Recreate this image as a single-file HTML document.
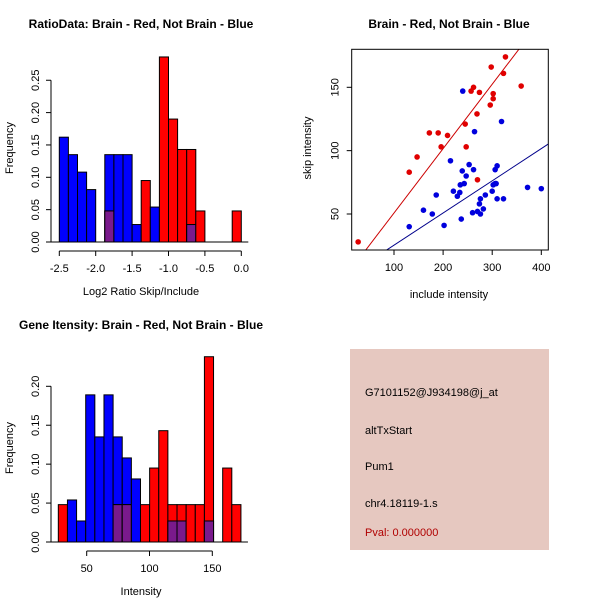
<!DOCTYPE html>
<html><head><meta charset="utf-8"><style>
html,body{margin:0;padding:0;background:#fff}
svg{display:block;font-family:"Liberation Sans",sans-serif}
</style></head><body>
<svg id="c" width="600" height="600" viewBox="0 0 600 600">
<rect x="350" y="349" width="199" height="201" fill="#e6c8c0"/>
<text x="365" y="396" font-size="11">G7101152@J934198@j_at</text>
<text x="365" y="434" font-size="11">altTxStart</text>
<text x="365" y="470" font-size="11">Pum1</text>
<text x="365" y="507" font-size="11">chr4.18119-1.s</text>
<text x="365" y="536" font-size="11" fill="#b00000">Pval: 0.000000</text>
</svg>
<script>
// ---- Ratio histogram data ----
const ratioBinStart = -2.5;
const ratioBinWidth = 0.125;
const ratioBlue = [0.162,0.135,0.108,0.081,0,0.135,0.135,0.135,0.027,0,0.054,0,0,0,0.027,0,0,0,0,0];
const ratioRed  = [0,0,0,0,0,0.048,0,0,0,0.095,0,0.286,0.19,0.143,0.143,0.048,0,0,0,0.048];
const ratioXTicks = [-2.5,-2.0,-1.5,-1.0,-0.5,0.0];
const ratioXLabels = ["-2.5","-2.0","-1.5","-1.0","-0.5","0.0"];
const ratioYTicks = [0,0.05,0.10,0.15,0.20,0.25];
const ratioYLabels = ["0.00","0.05","0.10","0.15","0.20","0.25"];
// ---- Intensity histogram data ----
const intBinStart = 27.4;
const intBinWidth = 7.27;
const intBlue = [0,0.054,0.027,0.189,0.135,0.189,0.135,0.108,0.081,0,0,0,0.027,0.027,0,0,0.027,0,0,0];
const intRed  = [0.048,0,0,0,0,0,0.048,0.048,0,0.048,0.095,0.143,0.048,0.048,0.048,0.048,0.238,0,0.095,0.048];
const intXTicks = [50,100,150];
const intXLabels = ["50","100","150"];
const intYTicks = [0,0.05,0.10,0.15,0.20];
const intYLabels = ["0.00","0.05","0.10","0.15","0.20"];
// ---- Scatter data ----
const redInclude = [27,131,147,172,190,209,196,245,247,257,262,274,269,270,298,302,302,296,323,327,359];
const redSkip    = [28,83,95,114,114,112,103,121,103,147,150,146,129,77,166,145,141,136,161,174,151];
const blueInclude = [131,160,178,186,202,215,221,229,234,235,237,239,243,240,247,253,262,264,260,270,274,276,276,282,286,300,302,306,308,306,310,310,323,319,372,400];
const blueSkip    = [40,53,50,65,41,92,68,64,67,73,46,84,74,147,80,89,85,115,51,52,58,62,50,54,65,68,73,74,74,85,88,62,62,123,71,70];
const redSlope = 0.508, blueSlope = 0.254;
const scXTicks = [100,200,300,400];
const scYTicks = [50,100,150];

const svg = document.getElementById('c');
const NS = 'http://www.w3.org/2000/svg';
function mk(tag, attrs, parent){const e=document.createElementNS(NS,tag);for(const k in attrs)e.setAttribute(k,attrs[k]);(parent||svg).appendChild(e);return e;}
function txt(s,x,y,size,extra){const t=mk('text',Object.assign({x:x,y:y,'font-size':size,'text-anchor':'middle'},extra||{}));t.textContent=s;return t;}

function histogram(o){
  const g=mk('g',{});
  
  
  const sx=v=>o.x0+(v-o.xv0)*o.kx, sy=v=>o.y0-v*o.ky;
  for(let i=0;i<o.blue.length;i++){
    const l=o.binStart+i*o.binW, xa=sx(l), xb=sx(l+o.binW);
    const b=o.blue[i], r=o.red[i], m=Math.min(b,r);
    if(b>0){const e=mk('rect',{x:xa,y:sy(b),width:xb-xa,height:sy(0)-sy(b),fill:'#0000ff',stroke:'#000','stroke-width':1},g);
      }
    if(r>0){const e=mk('rect',{x:xa,y:sy(r),width:xb-xa,height:sy(0)-sy(r),fill:'#ff0000',stroke:'#000','stroke-width':1},g);
      }
    if(m>0){const e=mk('rect',{x:xa,y:sy(m),width:xb-xa,height:sy(0)-sy(m),fill:'#7a1a8c',stroke:'#000','stroke-width':1},g);
      }
  }
  mk('line',{x1:sx(o.binStart)-10,x2:sx(o.binStart+o.blue.length*o.binW)+7,y1:sy(0),y2:sy(0),stroke:'#000'},g);
  const ay=o.y0+9;
  mk('line',{x1:sx(o.xt[0]),x2:sx(o.xt[o.xt.length-1]),y1:ay,y2:ay,stroke:'#000'},g);
  o.xt.forEach((v,i)=>{mk('line',{x1:sx(v),x2:sx(v),y1:ay,y2:ay+5,stroke:'#000'},g);txt(o.xl[i],sx(v),ay+21,11);});
  const ax=51;
  mk('line',{x1:ax,x2:ax,y1:sy(o.yt[0]),y2:sy(o.yt[o.yt.length-1]),stroke:'#000'},g);
  o.yt.forEach((v,i)=>{mk('line',{x1:ax,x2:ax-5,y1:sy(v),y2:sy(v),stroke:'#000'},g);
    txt(o.yl[i],ax-12,sy(v),11,{transform:`rotate(-90 ${ax-12} ${sy(v)})`});});
  txt(o.title,141,o.titleY,12,{'font-weight':'bold'});
  txt(o.xlabel,141,o.y0+53,11);
  txt('Frequency',13,o.midY,11,{transform:`rotate(-90 13 ${o.midY})`});
}
histogram({name:'ratio-histogram',blue:ratioBlue,red:ratioRed,binStart:ratioBinStart,binW:ratioBinWidth,
  x0:59.3,xv0:-2.5,kx:72.8,y0:242,ky:647,xt:ratioXTicks,xl:ratioXLabels,yt:ratioYTicks,yl:ratioYLabels,
  title:'RatioData: Brain - Red, Not Brain - Blue',titleY:28,xlabel:'Log2 Ratio Skip/Include',midY:148});
histogram({name:'intensity-histogram',blue:intBlue,red:intRed,binStart:intBinStart,binW:intBinWidth,
  x0:86.7,xv0:50,kx:1.256,y0:542,ky:778.5,xt:intXTicks,xl:intXLabels,yt:intYTicks,yl:intYLabels,
  title:'Gene Itensity: Brain - Red, Not Brain - Blue',titleY:329,xlabel:'Intensity',midY:448});

(function(){
  const g=mk('g',{});
  
  
  const L=351.7,R=548.3,T=49.3,B=250;
  const sx=v=>394+(v-100)*0.491, sy=v=>214-(v-50)*1.267;
  const cp=mk('clipPath',{id:'scclip'},g);mk('rect',{x:L,y:T,width:R-L,height:B-T},cp);
  const lg=mk('g',{'clip-path':'url(#scclip)'},g);
  const l1=mk('line',{x1:sx(0),y1:sy(0),x2:sx(500),y2:sy(500*redSlope),stroke:'#cc0000'},lg);
  
  const l2=mk('line',{x1:sx(0),y1:sy(0),x2:sx(500),y2:sy(500*blueSlope),stroke:'#00008b'},lg);
  
  redInclude.forEach((v,i)=>{const c=mk('circle',{cx:sx(v),cy:sy(redSkip[i]),r:2.8,fill:'#e00000'},g);
    });
  blueInclude.forEach((v,i)=>{const c=mk('circle',{cx:sx(v),cy:sy(blueSkip[i]),r:2.8,fill:'#0000dd'},g);
    });
  mk('rect',{x:L,y:T,width:R-L,height:B-T,fill:'none',stroke:'#000'},g);
  scXTicks.forEach(v=>{mk('line',{x1:sx(v),x2:sx(v),y1:B,y2:B+5,stroke:'#000'},g);txt(String(v),sx(v),B+21,11);});
  scYTicks.forEach(v=>{mk('line',{x1:L,x2:L-5,y1:sy(v),y2:sy(v),stroke:'#000'},g);
    txt(String(v),L-13,sy(v),11,{transform:`rotate(-90 ${L-13} ${sy(v)})`});});
  txt('Brain - Red, Not Brain - Blue',449,28,12,{'font-weight':'bold'});
  txt('include intensity',449,298,11);
  txt('skip intensity',311,148,11,{transform:'rotate(-90 311 148)'});
})();
</script>
</body></html>
